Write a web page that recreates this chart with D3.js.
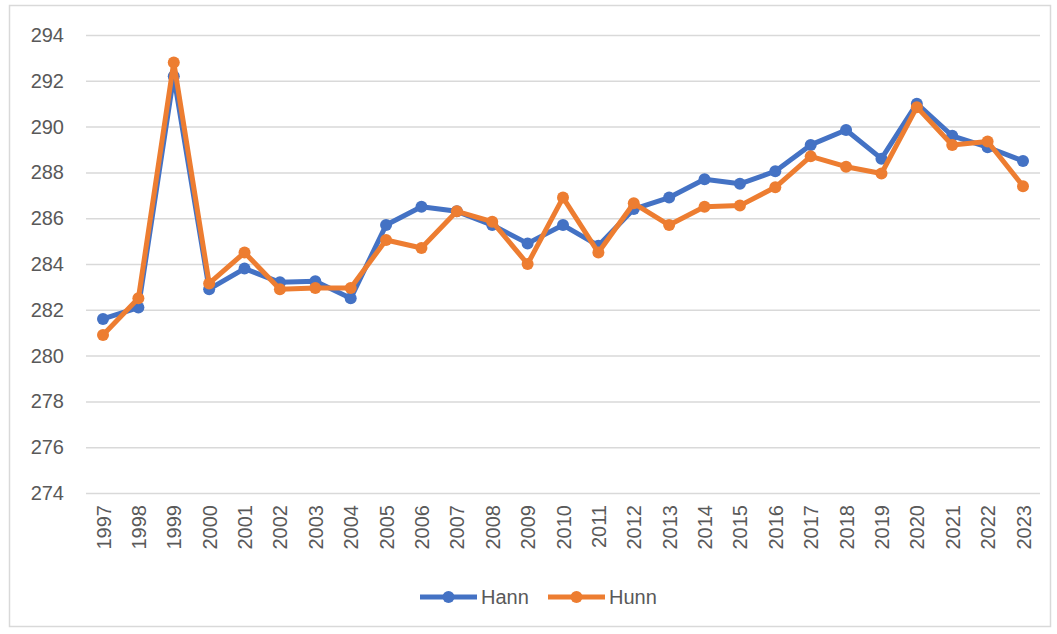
<!DOCTYPE html>
<html><head><meta charset="utf-8">
<script src="https://cdn.jsdelivr.net/npm/d3@7"></script>
<style>body{margin:0;background:#fff;}svg{display:block;}</style>
</head><body>
<script>
const years = ["1997","1998","1999","2000","2001","2002","2003","2004","2005","2006","2007","2008","2009","2010","2011","2012","2013","2014","2015","2016","2017","2018","2019","2020","2021","2022","2023"];
const hann = [281.6,282.1,292.2,282.9,283.8,283.2,283.25,282.5,285.7,286.5,286.3,285.7,284.9,285.7,284.8,286.4,286.9,287.7,287.5,288.05,289.2,289.85,288.6,291.0,289.6,289.1,288.5];
const hunn = [280.9,282.5,292.8,283.15,284.5,282.9,282.95,282.95,285.05,284.7,286.3,285.85,284.0,286.9,284.5,286.65,285.7,286.5,286.55,287.35,288.7,288.25,287.95,290.85,289.2,289.35,287.4];
const yTicks = [274,276,278,280,282,284,286,288,290,292,294];
const seriesNames = ["Hann","Hunn"];
const colors = ["#4472C4","#ED7D31"];

const W = 1057, H = 634;
const svg = d3.select("body").append("svg").attr("width", W).attr("height", H);
svg.append("rect").attr("x",9.5).attr("y",5.5).attr("width",1041).attr("height",621)
  .attr("fill","#fff").attr("stroke","#d9d9d9").attr("stroke-width",1.5);

const x = d3.scalePoint().domain(years).range([103, 1023]);
const y = d3.scaleLinear().domain([274, 294]).range([493, 35]);
const font = "Liberation Sans, Arial, sans-serif";

// gridlines
const yAxis = d3.axisLeft(y).tickValues(yTicks).tickSize(-(1040-86)).tickPadding(22);
const gy = svg.append("g").attr("transform","translate(86,0)").call(yAxis);
gy.select(".domain").remove();
gy.selectAll(".tick line").attr("stroke","#d9d9d9").attr("stroke-width",1.5);
gy.selectAll(".tick text").attr("fill","#595959").style("font-family",font).style("font-size","20px");

// x axis labels
const xAxis = d3.axisBottom(x).tickSize(0).tickPadding(0);
const gx = svg.append("g").attr("transform","translate(0,493)").call(xAxis);
gx.select(".domain").remove();
gx.selectAll(".tick text")
  .attr("fill","#595959").style("font-family",font).style("font-size","20px")
  .attr("transform","rotate(-90)").attr("text-anchor","end")
  .attr("x",-12).attr("y",0).attr("dy","0.35em");

const data = [hann, hunn];
const line = d3.line().x((d,i)=>x(years[i])).y(d=>y(d));
data.forEach((vals, k) => {
  const g = svg.append("g");
  g.append("path").datum(vals).attr("d", line).attr("fill","none")
    .attr("stroke", colors[k]).attr("stroke-width",5).attr("stroke-linejoin","round").attr("stroke-linecap","round");
  g.selectAll("circle").data(vals).join("circle")
    .attr("cx",(d,i)=>x(years[i])).attr("cy",d=>y(d)).attr("r",6).attr("fill",colors[k]);
});

// legend
const legendX = [420, 548];
seriesNames.forEach((name,k) => {
  const g = svg.append("g").attr("transform",`translate(${legendX[k]},597)`);
  g.append("line").attr("x1",0).attr("x2",57).attr("y1",0).attr("y2",0).attr("stroke",colors[k]).attr("stroke-width",5);
  g.append("circle").attr("cx",28.5).attr("cy",0).attr("r",6).attr("fill",colors[k]);
  g.append("text").attr("x",61).attr("y",0).attr("dy","0.35em").attr("fill","#595959")
    .style("font-family",font).style("font-size","20px").text(name);
});
</script>
</body></html>
